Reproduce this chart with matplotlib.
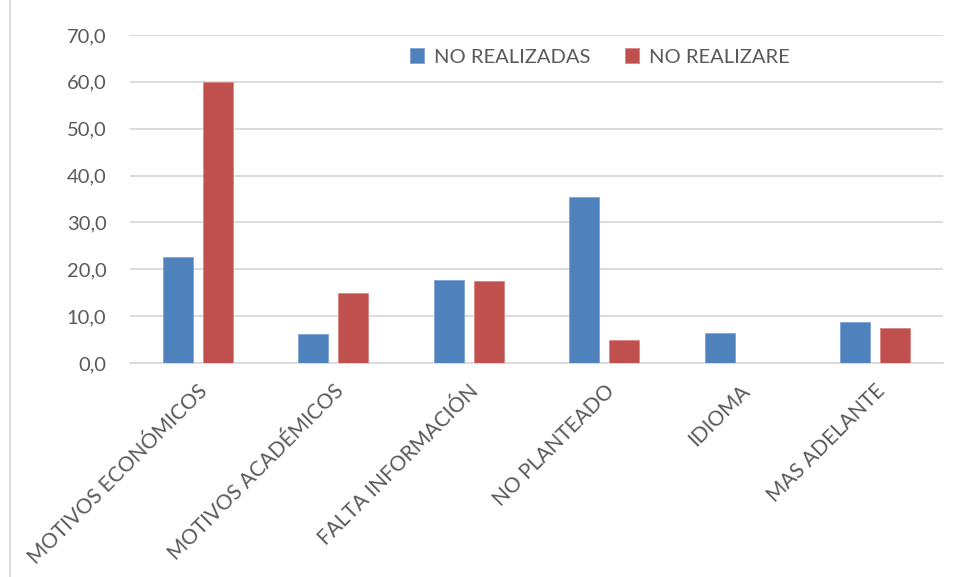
import numpy as np
import matplotlib
matplotlib.use("Agg")
import matplotlib.pyplot as plt
from matplotlib.lines import Line2D

plt.rcParams['font.family'] = ['Lato', 'DejaVu Sans']

# data
categories = ["MOTIVOS ECONÓMICOS", "MOTIVOS ACADÉMICOS", "FALTA INFORMACIÓN",
              "NO PLANTEADO", "IDIOMA", "MAS ADELANTE"]
no_realizadas = [22.7, 6.2, 17.8, 35.4, 6.3, 8.8]
no_realizare = [60.0, 15.0, 17.5, 5.0, 0.0, 7.5]
series_names = ["NO REALIZADAS", "NO REALIZARE"]

blue = "#4F81BD"
red = "#C0504D"
grey_txt = "#595959"
grid_col = "#D9D9D9"

fig = plt.figure(figsize=(9.58, 5.77), dpi=100)
ax = fig.add_axes([130 / 958, 1 - 363 / 577, (943 - 130) / 958, (363 - 35) / 577])

x = np.arange(len(categories))
w = 0.22
off = 0.147
ax.bar(x - off, no_realizadas, w, color=blue, edgecolor="#7FA3D3", linewidth=0.6,
       label=series_names[0], zorder=3)
ax.bar(x + off, no_realizare, w, color=red, edgecolor="#D98583", linewidth=0.6,
       label=series_names[1], zorder=3)

ax.set_xlim(-0.5, len(categories) - 0.5)
ax.set_ylim(0, 70)
ax.set_yticks(np.arange(0, 71, 10))
ax.set_yticklabels([f"{v:.1f}".replace(".", ",") for v in np.arange(0, 71, 10)])
ax.yaxis.grid(True, color=grid_col, linewidth=1.3, zorder=0)
ax.set_axisbelow(True)

for s in ["top", "right", "left"]:
    ax.spines[s].set_visible(False)
ax.spines["bottom"].set_color(grid_col)
ax.spines["bottom"].set_linewidth(1.3)

ax.tick_params(axis="y", length=0, labelsize=14.5, labelcolor=grey_txt, pad=17)
ax.set_xticks(x)
ax.set_xticklabels(categories, rotation=45, ha="right", rotation_mode="anchor")
ax.tick_params(axis="x", length=0, labelsize=15, labelcolor=grey_txt, pad=13)

leg = fig.legend(loc="center", bbox_to_anchor=(600 / 958, 1 - 57 / 577), ncol=2,
                 frameon=False, fontsize=14.5, handlelength=0.7, handleheight=0.7,
                 columnspacing=1.7, handletextpad=0.5)
for t in leg.get_texts():
    t.set_color(grey_txt)

# chart frame border on the left
fig.add_artist(Line2D([10 / 958, 10 / 958], [0, 1], color=grid_col, linewidth=1.3,
                      transform=fig.transFigure))

fig.savefig("out.png", dpi=100)
